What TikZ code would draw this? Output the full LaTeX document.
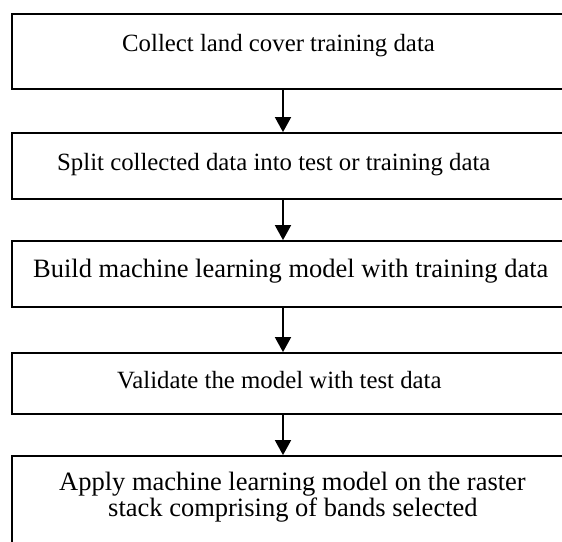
\documentclass[tikz,border=0pt]{standalone}
\usepackage{fontspec}
\setmainfont{Liberation Serif}
\usetikzlibrary{arrows.meta}
\begin{document}
\begin{tikzpicture}[x=1pt,y=-1pt,
  stepbox/.style={draw, line width=1.8pt, rectangle, inner sep=0pt},
  steptext/.style={anchor=base west, inner sep=0pt, font=\fontsize{24.8}{28}\selectfont},
  widetext/.style={steptext, font=\fontsize{26.5}{30}\selectfont},
  flow/.style={line width=1.8pt, -{Triangle[width=16pt,length=15pt]}}]
\useasboundingbox (0,0) rectangle (562,541);

% process boxes (right and bottom edges run past the page)
\node[stepbox, minimum width=588pt, minimum height=75pt]  (b1) at (306,51.5) {};
\node[stepbox, minimum width=588pt, minimum height=66pt]  (b2) at (306,166) {};
\node[stepbox, minimum width=588pt, minimum height=66pt]  (b3) at (306,274) {};
\node[stepbox, minimum width=588pt, minimum height=61pt]  (b4) at (306,383.5) {};
\node[stepbox, minimum width=588pt, minimum height=144pt] (b5) at (306,528) {};

% step texts
\node[steptext] (t1) at (122,51)  {Collect land cover training data};
\node[steptext] (t2) at (57,170)  {Split collected data into test or training data};
\node[widetext] (t3) at (33,277)  {Build machine learning model with training data};
\node[steptext] (t4) at (117,388) {Validate the model with test data};
\node[widetext] (t5a) at (59,490) {Apply machine learning model on the raster};
\node[widetext] (t5b) at (108,516) {stack comprising of bands selected};

% connectors
\coordinate (ax) at (283,0);
\draw[flow] (b1.south -| ax) -- (b2.north -| ax);
\draw[flow] (b2.south -| ax) -- (b3.north -| ax);
\draw[flow] (b3.south -| ax) -- (b4.north -| ax);
\draw[flow] (b4.south -| ax) -- (b5.north -| ax);
\end{tikzpicture}
\end{document}
